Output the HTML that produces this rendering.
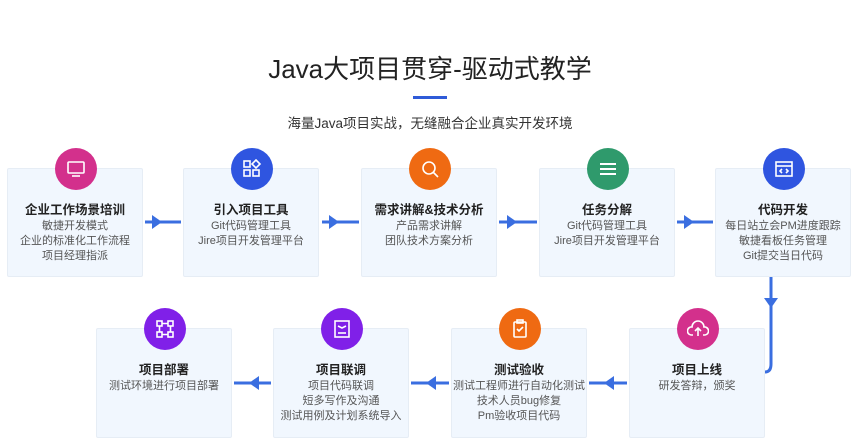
<!DOCTYPE html>
<html><head><meta charset="utf-8"><style>
body{margin:0;width:860px;height:443px;background:#fff;position:relative;overflow:hidden;font-family:"Liberation Sans","Noto Sans CJK SC",sans-serif;}
.t{position:absolute;left:0;width:860px;text-align:center;}
.box{position:absolute;width:136px;height:109px;background:#f1f7fe;border:1px solid #e6edf5;box-sizing:border-box;border-radius:2px;}
.c{position:absolute;width:42px;height:42px;border-radius:50%;left:47px;top:-21px;display:flex;align-items:center;justify-content:center;}
.h{position:absolute;top:30px;left:0;width:100%;text-align:center;font-size:12.5px;font-weight:bold;color:#222;}
.d{position:absolute;top:50px;left:0;width:100%;text-align:center;font-size:11px;line-height:15px;color:#555;}
svg.ar{position:absolute;left:0;top:0;}
</style></head><body>
<div class="t" style="top:49px;font-size:26px;color:#222;">Java大项目贯穿-驱动式教学</div>
<div style="position:absolute;left:413px;top:96px;width:34px;height:3px;background:#2f5bd8"></div>
<div class="t" style="top:112px;font-size:13.5px;color:#333;">海量Java项目实战，无缝融合企业真实开发环境</div>

<svg class="ar" width="860" height="443">
<g stroke="#3a6ee0" stroke-width="3" fill="none">
<line x1="145" y1="222" x2="181" y2="222"/>
<line x1="322" y1="222" x2="359" y2="222"/>
<line x1="499" y1="222" x2="537" y2="222"/>
<line x1="677" y1="222" x2="713" y2="222"/>
<path d="M771 277 V364 Q771 372 765 372"/>
<line x1="234" y1="383" x2="271" y2="383"/>
<line x1="411" y1="383" x2="449" y2="383"/>
<line x1="589" y1="383" x2="627" y2="383"/>
</g>
<g fill="#3a6ee0">
<path d="M152 215 L162 222 L152 229Z"/>
<path d="M329 215 L339 222 L329 229Z"/>
<path d="M507 215 L517 222 L507 229Z"/>
<path d="M684 215 L694 222 L684 229Z"/>
<path d="M764 298 L771 308 L778 298Z"/>
<path d="M259 376 L249 383 L259 390Z"/>
<path d="M436 376 L426 383 L436 390Z"/>
<path d="M614 376 L604 383 L614 390Z"/>
</g>
</svg>

<div class="box" style="left:7px;top:168px;"><div class="c" style="background:#d3308c"><svg width="20" height="20" fill="none" stroke="#fff" stroke-width="1.6"><rect x="2" y="3" width="16" height="11" rx="1"/><line x1="6" y1="17" x2="14" y2="17"/></svg></div><div class="h">企业工作场景培训</div><div class="d">敏捷开发模式<br>企业的标准化工作流程<br>项目经理指派</div></div>
<div class="box" style="left:183px;top:168px;"><div class="c" style="background:#2f55e0"><svg width="20" height="20" fill="none" stroke="#fff" stroke-width="1.6"><rect x="2" y="2" width="6" height="6"/><rect x="2" y="11" width="6" height="6"/><rect x="11" y="11" width="6" height="6"/><path d="M14 1 L18 5 L14 9 L10 5Z"/></svg></div><div class="h">引入项目工具</div><div class="d">Git代码管理工具<br>Jire项目开发管理平台</div></div>
<div class="box" style="left:361px;top:168px;"><div class="c" style="background:#ef6a12"><svg width="20" height="20" fill="none" stroke="#fff" stroke-width="1.6"><circle cx="9" cy="9" r="6"/><line x1="13" y1="13" x2="18" y2="18"/></svg></div><div class="h">需求讲解&amp;技术分析</div><div class="d">产品需求讲解<br>团队技术方案分析</div></div>
<div class="box" style="left:539px;top:168px;"><div class="c" style="background:#2f9a6c"><svg width="20" height="20" stroke="#fff" stroke-width="2"><line x1="2" y1="5" x2="18" y2="5"/><line x1="2" y1="10" x2="18" y2="10"/><line x1="2" y1="15" x2="18" y2="15"/></svg></div><div class="h">任务分解</div><div class="d">Git代码管理工具<br>Jire项目开发管理平台</div></div>
<div class="box" style="left:715px;top:168px;"><div class="c" style="background:#2f55e0"><svg width="20" height="20" fill="none" stroke="#fff" stroke-width="1.6"><rect x="2" y="3" width="16" height="14"/><line x1="2" y1="7" x2="18" y2="7"/><path d="M8 10 L6 12 L8 14 M12 10 L14 12 L12 14"/></svg></div><div class="h">代码开发</div><div class="d">每日站立会PM进度跟踪<br>敏捷看板任务管理<br>Git提交当日代码</div></div>

<div class="box" style="left:96px;top:328px;height:110px;"><div class="c" style="background:#8020e8"><svg width="20" height="20" fill="none" stroke="#fff" stroke-width="1.6"><rect x="2" y="2" width="5" height="5"/><rect x="13" y="2" width="5" height="5"/><rect x="2" y="13" width="5" height="5"/><rect x="13" y="13" width="5" height="5"/><path d="M7 4.5H13M7 15.5H13M4.5 7V13M15.5 7V13"/></svg></div><div class="h">项目部署</div><div class="d">测试环境进行项目部署</div></div>
<div class="box" style="left:273px;top:328px;height:110px;"><div class="c" style="background:#8020e8"><svg width="20" height="20" fill="none" stroke="#fff" stroke-width="1.6"><rect x="3" y="2" width="14" height="16"/><line x1="6" y1="14" x2="14" y2="14"/><path d="M6 7 L10 9 L14 7"/></svg></div><div class="h">项目联调</div><div class="d">项目代码联调<br>短多写作及沟通<br>测试用例及计划系统导入</div></div>
<div class="box" style="left:451px;top:328px;height:110px;"><div class="c" style="background:#ef6a12"><svg width="20" height="20" fill="none" stroke="#fff" stroke-width="1.6"><rect x="4" y="3" width="12" height="15" rx="1"/><rect x="7" y="1" width="6" height="3"/><path d="M7 10 L9 12 L13 8"/></svg></div><div class="h">测试验收</div><div class="d">测试工程师进行自动化测试<br>技术人员bug修复<br>Pm验收项目代码</div></div>
<div class="box" style="left:629px;top:328px;height:110px;"><div class="c" style="background:#d3308c"><svg width="22" height="20" fill="none" stroke="#fff" stroke-width="1.6"><path d="M6 16 H4 A4 4 0 0 1 5 8 A6 6 0 0 1 17 8 A4 4 0 0 1 18 16 H16"/><path d="M11 17 V10 M8 12 L11 9 L14 12"/></svg></div><div class="h">项目上线</div><div class="d">研发答辩，颁奖</div></div>
</body></html>
